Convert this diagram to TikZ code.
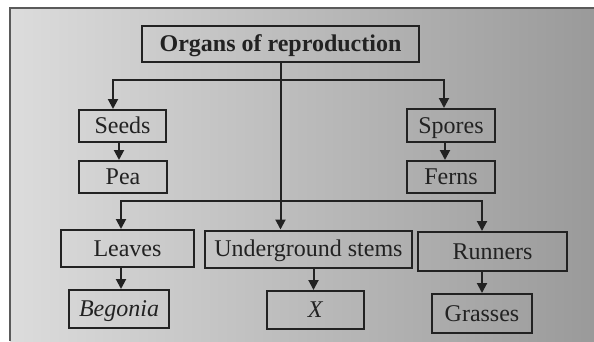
\documentclass[tikz,border=0pt]{standalone}
\usepackage{fontspec}
\setmainfont{Liberation Serif}
\usetikzlibrary{arrows.meta,calc}
\definecolor{ink}{HTML}{222222}
\definecolor{bgL}{HTML}{DCDCDC}
\definecolor{bgM}{HTML}{CACACA}
\definecolor{bgR}{HTML}{9A9A9A}
\definecolor{edge}{HTML}{5A5A5A}
\begin{document}
\begin{tikzpicture}[x=1pt,y=-1pt,
  box/.style={draw=ink, line width=2pt, inner sep=0pt, text=ink,
    font=\fontsize{24}{28}\selectfont, text height=20pt, text depth=5pt},
  conn/.style={draw=ink, line width=2pt},
  tip/.tip={Triangle[length=10pt,width=10pt]},
  arr/.style={conn, -tip}]
\useasboundingbox (0,0) rectangle (594,341);
\fill[white] (0,0) rectangle (594,341);
\shade[left color=bgL, middle color=bgM, right color=bgR] (10,8) rectangle (594,341);
\draw[edge, line width=1.2pt] (10,341) -- (10,8) -- (594,8);

% boxes
\node[box, minimum width=277pt, minimum height=36pt] (org) at (280.5,44) {\textbf{Organs of reproduction}};
\node[box, minimum width=87pt, minimum height=32pt] (seeds) at (122.5,126) {Seeds};
\node[box, minimum width=88pt, minimum height=32pt] (pea) at (123,177) {Pea};
\node[box, minimum width=88pt, minimum height=33pt] (spores) at (451,125.5) {Spores};
\node[box, minimum width=88pt, minimum height=32pt] (ferns) at (451,177) {Ferns};
\node[box, minimum width=133pt, minimum height=37pt] (leaves) at (127.5,248.5) {Leaves};
\node[box, minimum width=207pt, minimum height=37pt] (stems) at (308.5,249) {Underground stems};
\node[box, minimum width=149pt, minimum height=39pt] (runners) at (492.5,251.5) {Runners};
\node[box, minimum width=100pt, minimum height=38pt] (begonia) at (119,309) {\textit{Begonia}};
\node[box, minimum width=97pt, minimum height=38pt] (xbox) at (315.5,310) {\textit{X}};
\node[box, minimum width=100pt, minimum height=39pt] (grasses) at (482,313.5) {Grasses};

% connectors
\coordinate (b1L) at (113,80);
\coordinate (b1R) at (444,80);
\coordinate (b2L) at (121,201);
\coordinate (b2R) at (482,201);
\draw[conn, tip-tip] (b1L |- seeds.north) -- (b1L) -- (b1R) -- (b1R |- spores.north);
\draw[conn, tip-tip] (b2L |- leaves.north) -- (b2L) -- (b2R) -- (b2R |- runners.north);
\draw[arr] (org.south) -- (org.south |- stems.north);

\draw[arr] (seeds.south) ++(-3.5,0) coordinate (s1) -- (s1 |- pea.north);
\draw[arr] (spores.south) ++(-6,0) coordinate (s2) -- (s2 |- ferns.north);
\draw[arr] (leaves.south) ++(-6.5,0) coordinate (s3) -- (s3 |- begonia.north);
\draw[arr] (stems.south) ++(5,0) coordinate (s4) -- (s4 |- xbox.north);
\draw[arr] (runners.south) ++(-10.5,0) coordinate (s5) -- (s5 |- grasses.north);
\end{tikzpicture}
\end{document}
